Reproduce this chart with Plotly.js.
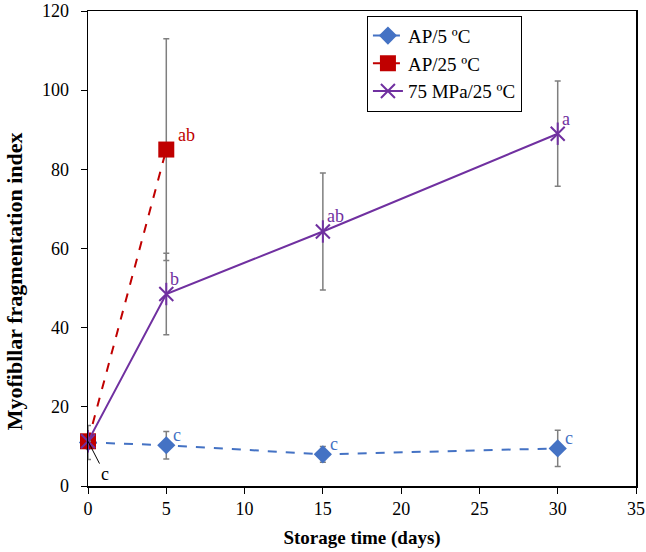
<!DOCTYPE html>
<html><head><meta charset="utf-8">
<script src="https://cdn.plot.ly/plotly-3.0.1.min.js"></script>
<style>body{margin:0;background:#fff}#plot{width:646px;height:552px}</style>
</head><body><div id="plot"></div>
<script>
// Data
const seriesNames = ["AP/5 ºC", "AP/25 ºC", "75 MPa/25 ºC"];
const ap5Days = [0, 5, 15, 30];
const ap5Values = [11.0, 10.3, 8.0, 9.5];
const ap5Err = [4.3, 3.5, 2.0, 4.6];
const ap5Labels = ["", "c", "c", "c"];
const ap25Days = [0, 5];
const ap25Values = [11.3, 85.0];
const ap25Err = [0, 28.0];
const ap25Labels = ["", "ab"];
const hpDays = [0, 5, 15, 30];
const hpValues = [11.3, 48.5, 64.3, 89.0];
const hpErr = [0, 10.3, 14.8, 13.3];
const hpLabels = ["", "b", "ab", "a"];
const zeroLabel = "c";
const xTicks = [0, 5, 10, 15, 20, 25, 30, 35];
const yTicks = [0, 20, 40, 60, 80, 100, 120];
const xTitle = "Storage time (days)";
const yTitle = "Myofibllar fragmentation index";

const serif = "Liberation Serif, Times New Roman, serif";
const blue = "#4472C4", red = "#C00000", purple = "#7030A0", grey = "#7f7f7f";
const errStyle = (arr) => ({type: "data", array: arr, visible: true, color: grey, thickness: 1.5, width: 3});

const traces = [
  {x: ap5Days, y: ap5Values, name: seriesNames[0], mode: "lines+markers", cliponaxis: false,
   line: {color: blue, width: 2, dash: "dash"}, marker: {symbol: "diamond", size: 14, color: blue},
   error_y: errStyle(ap5Err)},
  {x: ap25Days, y: ap25Values, name: seriesNames[1], mode: "lines+markers", cliponaxis: false,
   line: {color: red, width: 2, dash: "dash"}, marker: {symbol: "square", size: 16, color: red},
   error_y: errStyle(ap25Err)},
  {x: hpDays, y: hpValues, name: seriesNames[2], mode: "lines+markers", cliponaxis: false,
   line: {color: purple, width: 2}, marker: {symbol: "x-thin-open", size: 14, color: purple, line: {color: purple, width: 2}},
   error_y: errStyle(hpErr)},
  {x: hpDays, y: hpValues, showlegend: false, mode: "markers", cliponaxis: false, hoverinfo: "skip",
   marker: {symbol: "line-ns-open", size: 16, color: purple, line: {color: purple, width: 2}}}
];

const annotations = [];
function addLabels(xs, ys, labels, color, dx, dy) {
  labels.forEach((t, i) => {
    if (!t) return;
    annotations.push({x: xs[i], y: ys[i], text: t, showarrow: false, xanchor: "left", yanchor: "bottom",
      xshift: dx, yshift: dy, font: {family: serif, size: 18, color: color}});
  });
}
addLabels(ap5Days, ap5Values, ap5Labels, blue, 5, -2);
addLabels(ap25Days, ap25Values, ap25Labels, red, 10, 3);
addLabels(hpDays, hpValues, hpLabels, purple, 2, 3);
annotations.push({x: hpDays[0], y: hpValues[0], text: zeroLabel, showarrow: true, arrowhead: 0, arrowwidth: 1,
  arrowcolor: "#000", ax: 17, ay: 33, font: {family: serif, size: 18, color: "#000"}});
annotations.push({xref: "paper", yref: "paper", x: -0.135, y: 0.431, text: "<b>" + yTitle + "</b>",
  textangle: -90, showarrow: false, xanchor: "center", yanchor: "middle", font: {family: serif, size: 22, color: "#000"}});

const layout = {
  width: 646, height: 552,
  margin: {l: 88, r: 10, t: 11, b: 66},
  paper_bgcolor: "#fff", plot_bgcolor: "#fff",
  font: {family: serif, size: 18, color: "#000"},
  xaxis: {range: [0, 35], tickvals: xTicks, ticks: "outside", ticklen: 6, tickcolor: "#000",
    showline: true, linecolor: "#000", linewidth: 1.5, mirror: true, showgrid: false, zeroline: false,
    tickfont: {family: serif, size: 18},
    title: {text: "<b>" + xTitle + "</b>", font: {family: serif, size: 19}, standoff: 12}},
  yaxis: {range: [0, 120], tickvals: yTicks, ticks: "outside", ticklen: 6, tickcolor: "#000",
    showline: true, linecolor: "#000", linewidth: 1.5, mirror: true, showgrid: false, zeroline: false,
    tickfont: {family: serif, size: 18}, ticklabelstandoff: 8},
  legend: {x: 0.509, y: 0.99, xanchor: "left", yanchor: "top", bordercolor: "#000", borderwidth: 1,
    bgcolor: "#fff", font: {family: serif, size: 19}, tracegroupgap: 0, itemwidth: 30},
  annotations: annotations,
  showlegend: true
};
Plotly.newPlot("plot", traces, layout, {displayModeBar: false, staticPlot: true});
</script></body></html>
